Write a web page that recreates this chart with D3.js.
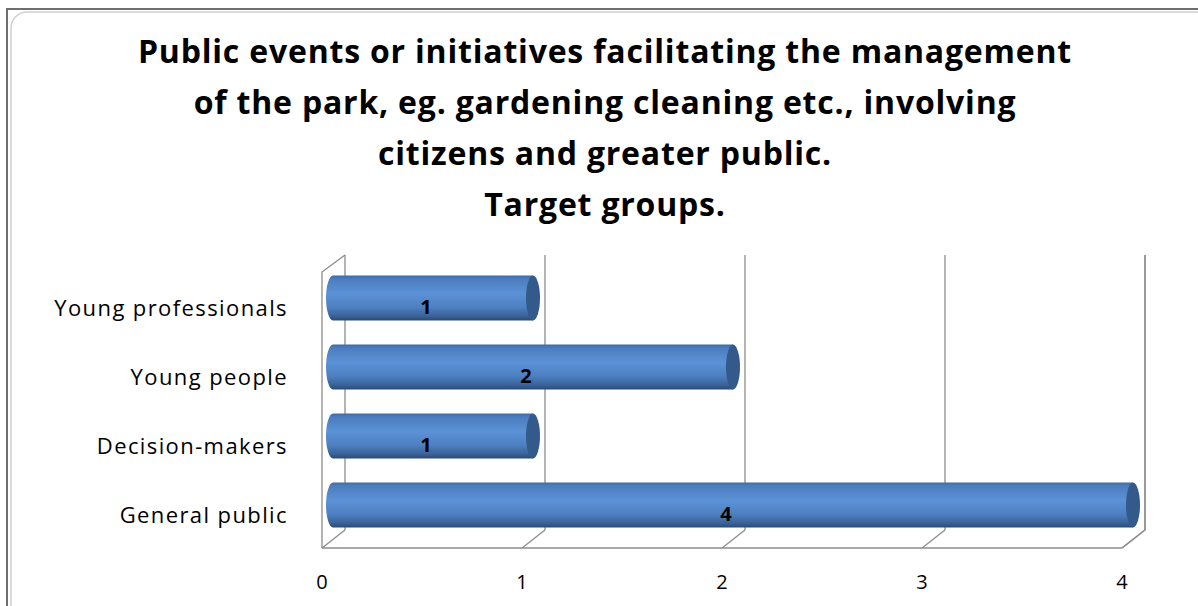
<!DOCTYPE html>
<html><head><meta charset="utf-8">
<script src="https://cdn.jsdelivr.net/npm/d3@7"></script>
<style>body{margin:0;background:#fff}svg{display:block}</style>
</head><body><svg id="c" width="1198" height="606"></svg>
<script>
const titleLines = ["Public events or initiatives facilitating the management","of the park, eg. gardening cleaning etc., involving","citizens and greater public.","Target groups."];
const categories = ["Young professionals","Young people","Decision-makers","General public"];
const values = [1,2,1,4];
const ticks = [0,1,2,3,4];

const svg = d3.select("#c");
const FONT = "'Open Sans', 'Noto Sans', sans-serif";

// frame
svg.append("path").attr("d","M7,606 L7,9 L1198,9").attr("fill","none").attr("stroke","#6e6e6e").attr("stroke-width",2);
svg.append("rect").attr("x",11).attr("y",12).attr("width",1200).attr("height",610).attr("rx",16)
  .attr("fill","none").attr("stroke","#cfcfcf").attr("stroke-width",1.5);

// title
const t = svg.append("text").attr("text-anchor","middle").attr("font-family",FONT).attr("font-weight","bold")
  .attr("font-size",32).attr("letter-spacing",0.8).attr("fill","#000");
titleLines.forEach((l,i)=>{ t.append("tspan").attr("x",605).attr("y",63+i*51).text(l); });

// 3D geometry
const xBack = d3.scaleLinear().domain([0,4]).range([345,1145]);
const xFront = d3.scaleLinear().domain([0,4]).range([322,1122]);
const xBar = d3.scaleLinear().domain([0,4]).range([333,1133]);
const backTop = 255, backBot = 530, frontBot = 548, frontTop = 272;
const y = d3.scaleBand().domain(categories).range([263.5,539.5]).paddingInner(0.35).paddingOuter(0.175);

const g = svg.append("g").attr("stroke","#8c8c8c").attr("stroke-width",1.3).attr("fill","none");
g.selectAll("line.grid").data(ticks).join("line").attr("class","grid")
  .attr("x1",d=>xBack(d)).attr("x2",d=>xBack(d)).attr("y1",backTop).attr("y2",backBot);
g.selectAll("line.diag").data(ticks).join("line").attr("class","diag")
  .attr("x1",d=>xBack(d)).attr("y1",backBot).attr("x2",d=>xFront(d)).attr("y2",frontBot);
g.append("line").attr("x1",xFront(0)).attr("x2",xFront(4)).attr("y1",frontBot).attr("y2",frontBot);
g.append("path").attr("d",`M${xFront(0)},${frontBot} L${xFront(0)},${frontTop} L${xBack(0)},${backTop}`);

// bars
const defs = svg.append("defs");
const grad = defs.append("linearGradient").attr("id","cyl").attr("x1",0).attr("y1",0).attr("x2",0).attr("y2",1);
[[0,"#3f6ca8"],[0.08,"#4c7dbf"],[0.4,"#5b92d6"],[0.7,"#4e80c2"],[0.9,"#3a6398"],[1,"#2a4a75"]].forEach(s=>grad.append("stop").attr("offset",s[0]).attr("stop-color",s[1]));
const rx = 7;
const bars = svg.append("g");
categories.forEach((c,i)=>{
  const y0 = y(c), h = y.bandwidth(), x0 = xBar(0), x1 = xBar(values[i]);
  bars.append("path")
    .attr("d",`M${x1},${y0} L${x0},${y0} A${rx},${h/2} 0 0 0 ${x0},${y0+h} L${x1},${y0+h} Z`)
    .attr("fill","url(#cyl)");
  bars.append("ellipse").attr("cx",x1).attr("cy",y0+h/2).attr("rx",rx).attr("ry",h/2).attr("fill","#34598b");
  bars.append("text").attr("x",(xBar(0)-14+x1)/2).attr("y",y0+h/2+16).attr("text-anchor","middle")
    .attr("font-family",FONT).attr("font-weight","bold").attr("font-size",20).attr("fill","#000").text(values[i]);
  svg.append("text").attr("x",288).attr("y",y0+h/2+18).attr("text-anchor","end")
    .attr("font-family",FONT).attr("font-size",22).attr("letter-spacing",1.4).attr("fill","#000").text(c);
});
g.append("path").attr("d",`M${xBack(4)},${backTop} L${xBack(4)},${backBot} L${xFront(4)},${frontBot}`);

// ticks
svg.append("g").selectAll("text").data(ticks).join("text")
  .attr("x",d=>xFront(d)).attr("y",589).attr("text-anchor","middle")
  .attr("font-family",FONT).attr("font-size",20).attr("fill","#000").text(d=>d);
</script></body></html>
